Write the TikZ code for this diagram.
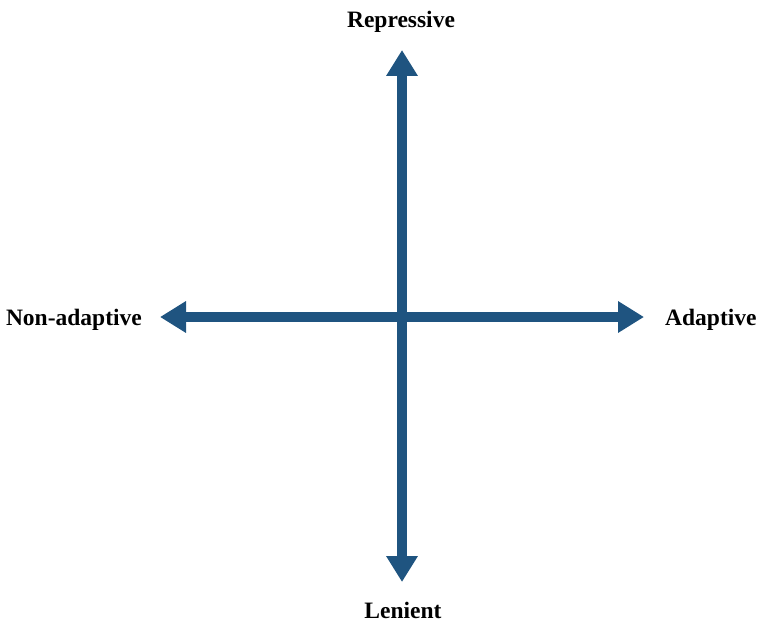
\documentclass[tikz,border=0pt]{standalone}
\usepackage{fontspec}
\setmainfont{Liberation Serif}
\usepackage{tikz}
\usetikzlibrary{arrows.meta}
\definecolor{axisblue}{RGB}{31,84,128}

\begin{document}
\begin{tikzpicture}[
        x=1pt, y=-1pt,
        axis/.style={line width=10pt, draw=axisblue,
            {Triangle[width=30pt, length=26pt]}-{Triangle[width=30pt, length=26pt]}},
        pole/.style={font=\bfseries\fontsize{23.5}{28}\selectfont, inner sep=0pt}
    ]
    \useasboundingbox (0,0) rectangle (759,623);
    % ends of the two axes
    \coordinate (origin) at (402,317);
    \coordinate (top) at (402,50);
    \coordinate (bottom) at (402,582);
    \coordinate (left) at (160,317);
    \coordinate (right) at (644,317);
    % pole labels
    \node[pole, anchor=base] (repressive) at (401,28) {Repressive};
    \node[pole, anchor=base] (lenient) at (403,618) {Lenient};
    \node[pole, anchor=base east] (nonadaptive) at (142,325) {Non-adaptive};
    \node[pole, anchor=base west] (adaptive) at (665,325) {Adaptive};
    % axes
    \draw[axis] (bottom) -- (top);
    \draw[axis] (left) -- (right);
\end{tikzpicture}
\end{document}
